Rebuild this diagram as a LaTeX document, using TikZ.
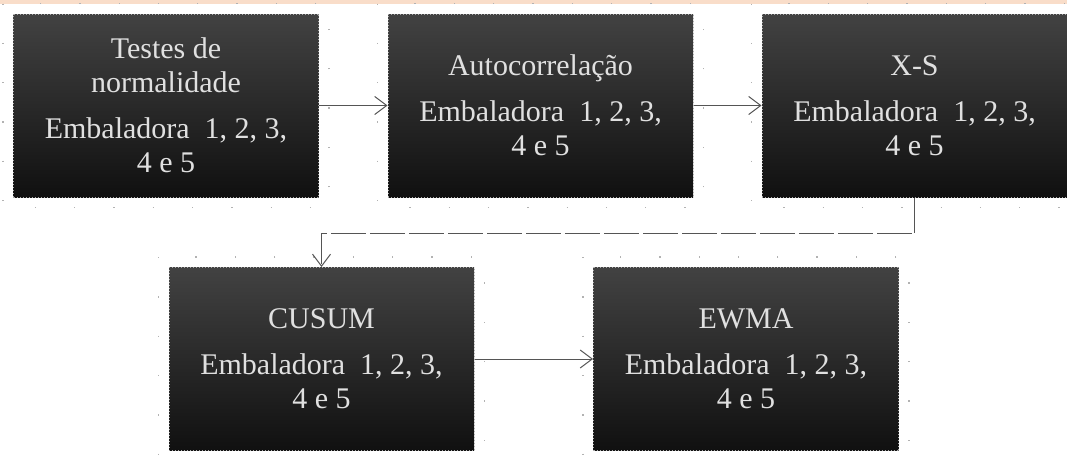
\documentclass[tikz,border=0pt]{standalone}
\usepackage{fontspec}
\setmainfont{Liberation Serif}
\usepackage{xcolor}
\usepackage{tikz}
\usetikzlibrary{arrows.meta}

\definecolor{bandpeach}{RGB}{249,221,201}
\definecolor{boxtop}{RGB}{66,66,66}
\definecolor{boxbottom}{RGB}{16,16,16}
\definecolor{linegray}{RGB}{85,85,85}

\tikzset{
  stage/.style={rectangle, minimum width=305pt, minimum height=183pt, inner sep=0pt,
    top color=boxtop, bottom color=boxbottom, draw=gray!65, dotted, line width=1pt,
    text=white!88!black, align=center, font=\fontsize{30}{34}\selectfont},
  halo/.style={draw=gray!60, line width=1.3pt, dash pattern=on 1.3pt off 38pt},
  flow/.style={draw=linegray, line width=1pt, -{Straight Barb[length=12pt,width=18pt]}}
}

\begin{document}
\begin{tikzpicture}[x=1pt,y=-1pt]
    \useasboundingbox (0,0) rectangle (1067,455);
    \fill[bandpeach] (0,0) rectangle (1067,4);
    % upper row
    \node[stage] (normal) at (166,105.5)
      {Testes de\\normalidade\\[12pt]Embaladora~~1, 2, 3,\\4 e 5};
    \node[stage] (autocorr) at (540.5,105.5)
      {Autocorrela\c{c}\~ao\\[12pt]Embaladora~~1, 2, 3,\\4 e 5};
    \node[stage] (xs) at (914.5,105.5)
      {X-S\\[12pt]Embaladora~~1, 2, 3,\\4 e 5};
    % lower row
    \node[stage] (cusum) at (321.5,359)
      {CUSUM\\[12pt]Embaladora~~1, 2, 3,\\4 e 5};
    \node[stage] (ewma) at (746,359)
      {EWMA\\[12pt]Embaladora~~1, 2, 3,\\4 e 5};
    \foreach \b in {normal,autocorr,xs,cusum,ewma}
      \draw[halo] ([shift={(-10,-10)}]\b.north west) rectangle ([shift={(10,10)}]\b.south east);
    % connectors
    \draw[flow] (normal) -- (autocorr);
    \draw[flow] (autocorr) -- (xs);
    \draw[flow, dash pattern=on 35pt off 4pt] (xs.south) -- ++(0,36) -| (cusum.north);
    \draw[flow] (cusum) -- (ewma);
  \end{tikzpicture}
\end{document}
